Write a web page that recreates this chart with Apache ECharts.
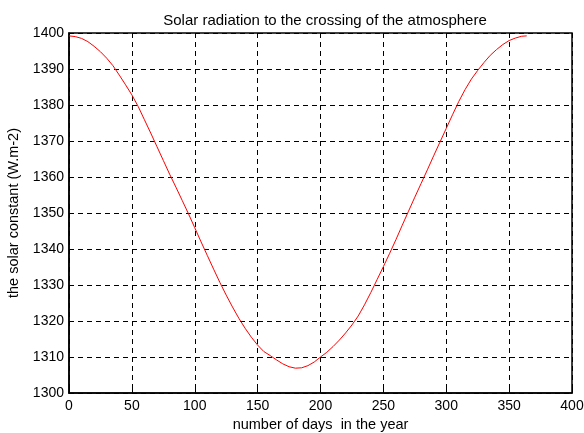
<!DOCTYPE html>
<html><head><meta charset="utf-8">
<script src="https://cdn.jsdelivr.net/npm/echarts@6/dist/echarts.min.js"></script>
<style>html,body{margin:0;padding:0;background:#fff}#c{width:584px;height:433px}</style>
</head><body><div id="c"></div>
<script>
var days = [0,5,10,15,20,25,30,35,40,45,50,55,60,65,70,75,80,85,90,95,100,105,110,115,120,125,130,135,140,145,150,155,160,165,170,175,180,185,190,195,200,205,210,215,220,225,230,235,240,245,250,255,260,265,270,275,280,285,290,295,300,305,310,315,320,325,330,335,340,345,350,355,360,364];
var solar = [1399.2,1399.0,1398.5,1397.6,1396.3,1394.8,1393.0,1390.9,1388.3,1385.6,1382.8,1379.6,1375.9,1372.2,1368.4,1364.6,1360.8,1357.2,1353.5,1349.8,1345.9,1342.0,1338.2,1334.4,1330.7,1327.2,1323.9,1320.8,1318.0,1315.5,1313.3,1311.5,1310.4,1309.2,1308.1,1307.3,1306.9,1307.0,1307.6,1308.6,1310.0,1311.3,1312.9,1314.7,1316.7,1318.9,1321.4,1324.5,1327.9,1331.5,1335.1,1338.8,1342.6,1346.6,1350.5,1354.4,1358.2,1362.0,1365.9,1369.7,1373.5,1377.3,1381.0,1384.3,1387.2,1389.6,1391.8,1393.8,1395.4,1396.8,1397.9,1398.6,1399.1,1399.2];
var xTicks = [0,50,100,150,200,250,300,350,400];
var yTicks = [1300,1310,1320,1330,1340,1350,1360,1370,1380,1390,1400];
var titleText = 'Solar radiation to the crossing of the atmosphere';
var xName = 'number of days  in the year';
var yName = 'the solar constant (W.m-2)';

var pts = days.map(function(d,i){return [d, solar[i]];});
var chart = echarts.init(document.getElementById('c'), null, {renderer:'canvas'});
var font = 'Liberation Sans, Arial, Helvetica, sans-serif';
var dash = {show:true, lineStyle:{color:'#000', width:1, type:[5,4]}};
chart.setOption({
  backgroundColor:'#fff',
  animation:false,
  title:{text:titleText, left:320, top:8, textAlign:'center',
    textStyle:{fontFamily:font, fontSize:15, fontWeight:'normal', color:'#000'}},
  grid:{left:69, right:12, top:33, bottom:40, show:true, borderColor:'#000', borderWidth:1.5,
    backgroundColor:'transparent', containLabel:false, outerBoundsMode:'none'},
  xAxis:{type:'value', min:xTicks[0], max:xTicks[xTicks.length-1], interval:50,
    name:xName, nameLocation:'middle', nameGap:24,
    nameTextStyle:{fontFamily:font, fontSize:14.5, color:'#000'},
    axisLine:{show:true, lineStyle:{color:'#000', width:1.5}},
    axisTick:{show:true, inside:true, length:4, lineStyle:{color:'#000'}},
    axisLabel:{fontFamily:font, fontSize:14, color:'#000', margin:6, formatter:function(v){return String(v);}},
    splitLine:dash},
  yAxis:{type:'value', min:yTicks[0], max:yTicks[yTicks.length-1], interval:10,
    name:yName, nameLocation:'middle', nameGap:48, nameRotate:90,
    nameTextStyle:{fontFamily:font, fontSize:14.5, color:'#000'},
    axisLine:{show:true, lineStyle:{color:'#000', width:1.5}},
    axisTick:{show:true, inside:true, length:4, lineStyle:{color:'#000'}},
    axisLabel:{fontFamily:font, fontSize:14, color:'#000', margin:5, formatter:function(v){return String(v);}},
    splitLine:dash},
  series:[{type:'line', data:pts, showSymbol:false, smooth:false,
    lineStyle:{color:'#ff0000', width:1}}]
});
</script></body></html>
